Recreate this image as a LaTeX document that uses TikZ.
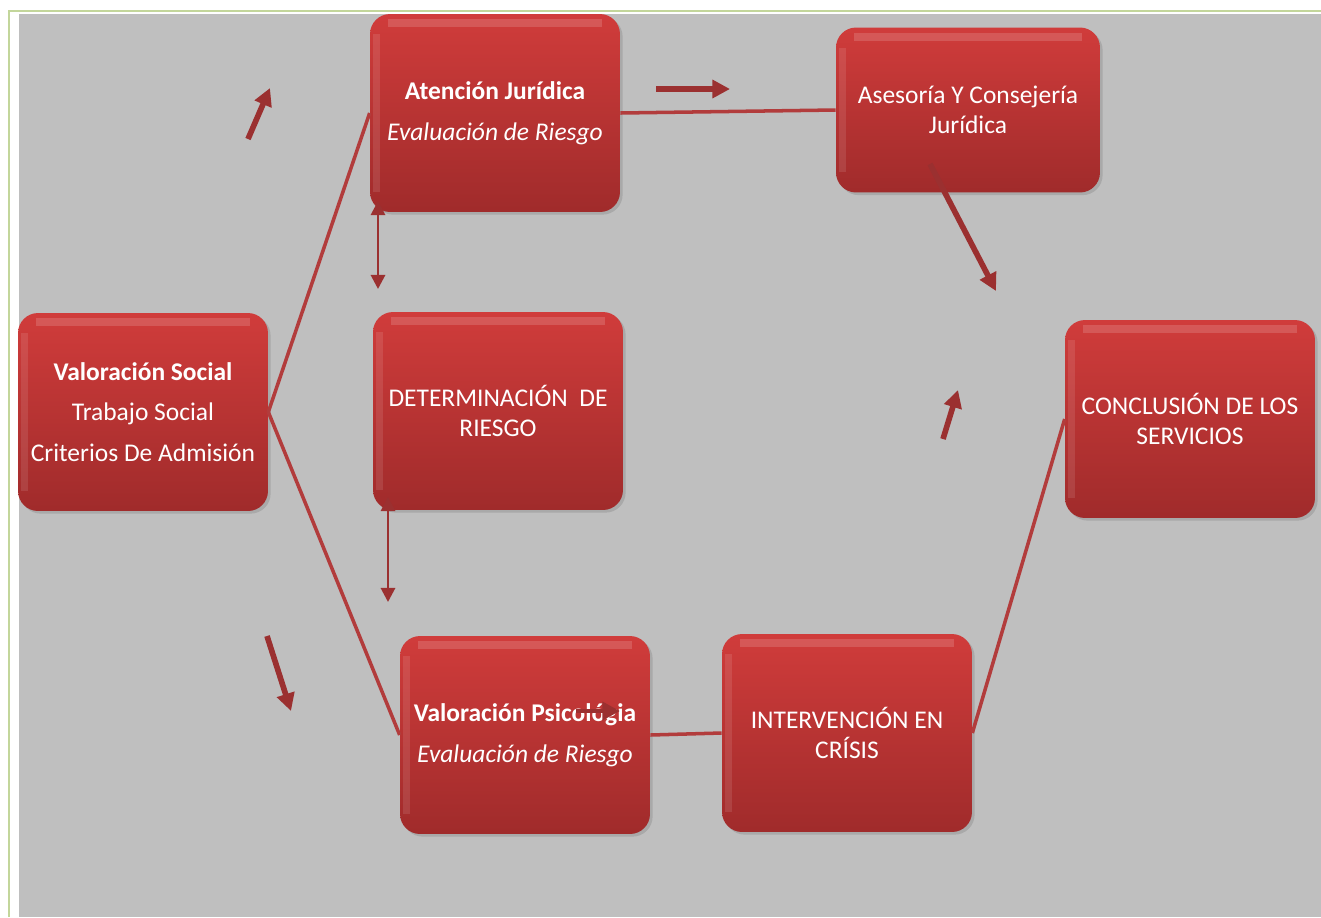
\documentclass[tikz,border=0pt]{standalone}
\usepackage{fontspec}
\setmainfont{Carlito}
\usetikzlibrary{arrows.meta,shadows}

\definecolor{boxtop}{HTML}{D03C3B}
\definecolor{boxbottom}{HTML}{A02B2B}
\definecolor{linkred}{HTML}{B23C3C}
\definecolor{arrowred}{HTML}{9B3030}
\definecolor{panelgray}{HTML}{BFBFBF}
\definecolor{framegreen}{HTML}{C3D69B}

\tikzset{
  stage/.style={rectangle, rounded corners=0.4cm, minimum width=5cm,
    minimum height=3.96cm, inner sep=2pt, align=center, text=white,
    top color=boxtop, bottom color=boxbottom,
    drop shadow={opacity=0.35, shadow xshift=1.5pt, shadow yshift=-1.5pt},
    path picture={
      \fill[white, opacity=0.15, sharp corners]
        ([xshift=0.35cm, yshift=-0.1cm]path picture bounding box.north west)
        rectangle ([xshift=-0.35cm, yshift=-0.26cm]path picture bounding box.north east);
      \fill[white, opacity=0.1, sharp corners]
        ([xshift=0.05cm, yshift=-0.4cm]path picture bounding box.north west)
        rectangle ([xshift=0.2cm, yshift=0.4cm]path picture bounding box.south west);
    },
    font=\fontsize{14.5}{23.2}\selectfont},
  stagecaps/.style={stage, font=\fontsize{14.5}{16.8}\selectfont},
  link/.style={draw=linkred, line width=2pt},
  flow/.style={draw=arrowred, line width=3.2pt, -{Triangle[length=10pt,width=10pt]}},
  both/.style={draw=arrowred, line width=1.6pt,
    {Triangle[length=8pt,width=8pt]}-{Triangle[length=8pt,width=8pt]}}
}

\begin{document}
\begin{tikzpicture}[x=0.02cm, y=-0.02cm]
  \useasboundingbox (0,0) rectangle (1321,917);

  % Page and panel
  \fill[white] (0,0) rectangle (1321,917);
  \draw[framegreen, line width=1.2pt] (9,917) -- (9,11) -- (1321,11);
  \fill[panelgray] (19,14) rectangle (1321,917);

  % Stages
  \node[stage] (social) at (143,412)
    {\textbf{Valoración Social}\\Trabajo Social\\Criterios De Admisión};
  \node[stage] (juridica) at (495,113)
    {\textbf{Atención Jurídica}\\\textit{Evaluación de Riesgo}};
  \node[stagecaps] (riesgo) at (498,411) {DETERMINACIÓN\ \ DE\\RIESGO};
  \node[stage] (psico) at (525,735)
    {\textbf{Valoración Psicológia}\\\textit{Evaluación de Riesgo}};
  \node[stagecaps] (crisis) at (847,733) {INTERVENCIÓN EN\\CRÍSIS};
  \node[stagecaps, minimum width=5.28cm, minimum height=3.3cm] (asesoria)
    at (968,110) {Asesoría Y Consejería\\Jurídica};
  \node[stagecaps] (cierre) at (1190,419) {CONCLUSIÓN DE LOS\\SERVICIOS};

  % Links between stages
  \draw[link] (social.east) -- (juridica.west);
  \draw[link] (social.east) -- (psico.west);
  \draw[link] (juridica.east) -- (asesoria.west);
  \draw[link] (psico.east) -- (crisis.west);
  \draw[link] (crisis.east) -- (cierre.west);

  % Free arrows
  \coordinate (up1) at (248,139);   \coordinate (up1tip) at (270,88);
  \coordinate (right1) at (656,89); \coordinate (right1tip) at (730,89);
  \coordinate (down1) at (930,164); \coordinate (down1tip) at (996,291);
  \coordinate (up2) at (943,439);   \coordinate (up2tip) at (958,390);
  \coordinate (down2) at (267,636); \coordinate (down2tip) at (291,711);
  \coordinate (right2) at (576,711); \coordinate (right2tip) at (620,711);

  \draw[flow] (up1) -- (up1tip);
  \draw[flow] (right1) -- (right1tip);
  \draw[flow] (down1) -- (down1tip);
  \draw[flow] (up2) -- (up2tip);
  \draw[flow] (down2) -- (down2tip);
  \draw[flow, line width=2.6pt] (right2) -- (right2tip);

  % Two-way arrows
  \coordinate (pair1a) at (378,201); \coordinate (pair1b) at (378,289);
  \coordinate (pair2a) at (388,497); \coordinate (pair2b) at (388,602);
  \draw[both] (pair1a) -- (pair1b);
  \draw[both] (pair2a) -- (pair2b);
\end{tikzpicture}
\end{document}
